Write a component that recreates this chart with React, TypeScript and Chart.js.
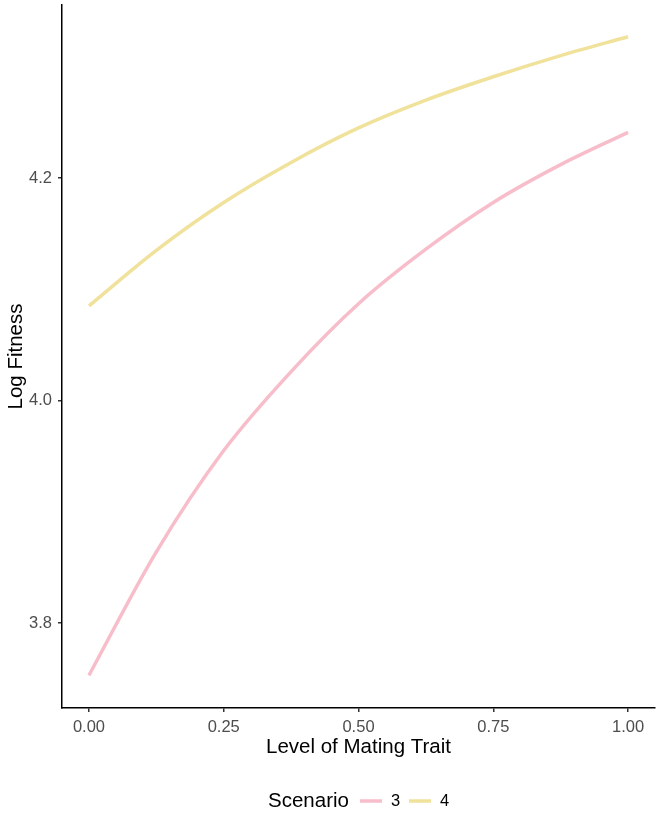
import React, { useEffect, useRef } from "react";
import { Chart, registerables } from "chart.js";

Chart.register(...registerables);

const xValues = [0, 0.125, 0.25, 0.375, 0.5, 0.625, 0.75, 0.875, 1];
const scenario3 = [3.753, 3.864, 3.955, 4.026, 4.087, 4.136, 4.178, 4.212, 4.241];
const scenario4 = [4.085, 4.135, 4.178, 4.214, 4.245, 4.27, 4.291, 4.31, 4.327];
const xTicks = [0, 0.25, 0.5, 0.75, 1];
const yTicks = [3.8, 4.0, 4.2];
const seriesNames = ["3", "4"];
const seriesColors = ["#F8BDCA", "#F0E19B"];
const legendTitle = "Scenario";
const xTitle = "Level of Mating Trait";
const yTitle = "Log Fitness";

const FONT = "'Liberation Sans', Arial, Helvetica, sans-serif";

const legendPlugin = {
  id: "ggLegend",
  afterDraw(chart: any) {
    const ctx = chart.ctx;
    const y = 801;
    ctx.save();
    ctx.textBaseline = "middle";
    ctx.textAlign = "left";
    ctx.fillStyle = "#000000";
    ctx.font = `20.5px ${FONT}`;
    ctx.fillText(legendTitle, 268, y);
    let x = 360;
    chart.data.datasets.forEach((ds: any) => {
      ctx.strokeStyle = ds.borderColor;
      ctx.lineWidth = 3.5;
      ctx.beginPath();
      ctx.moveTo(x, y);
      ctx.lineTo(x + 22, y);
      ctx.stroke();
      ctx.fillStyle = "#000000";
      ctx.font = `16.5px ${FONT}`;
      ctx.fillText(ds.label, x + 31, y);
      x += 49;
    });
    ctx.restore();
  },
};

export default function App() {
  const ref = useRef<HTMLCanvasElement | null>(null);

  useEffect(() => {
    if (!ref.current) return;
    const datasets = [scenario3, scenario4].map((vals, i) => ({
      label: seriesNames[i],
      data: vals.map((v, j) => ({ x: xValues[j], y: v })),
      borderColor: seriesColors[i],
      backgroundColor: seriesColors[i],
      borderWidth: 3.5,
      pointRadius: 0,
      cubicInterpolationMode: "monotone" as const,
      fill: false,
    }));
    const chart = new Chart(ref.current, {
      type: "line",
      data: { datasets },
      plugins: [legendPlugin],
      options: {
        animation: false,
        responsive: false,
        maintainAspectRatio: false,
        layout: { padding: { left: 0, right: 6, top: 5, bottom: 53 } },
        plugins: { legend: { display: false }, tooltip: { enabled: false } },
        scales: {
          x: {
            type: "linear",
            min: -0.05,
            max: 1.05,
            afterBuildTicks: (s: any) => {
              s.ticks = xTicks.map((v) => ({ value: v }));
            },
            afterFit: (s: any) => {
              s.height = 52;
              s.paddingLeft = 0;
              s.paddingRight = 0;
            },
            ticks: {
              callback: (v: any) => Number(v).toFixed(2),
              color: "#4D4D4D",
              font: { family: FONT, size: 16.5 },
              padding: 6,
              maxRotation: 0,
              autoSkip: false,
            },
            grid: {
              display: true,
              drawOnChartArea: false,
              drawTicks: true,
              tickLength: 4,
              color: "#333333",
              lineWidth: 1.5,
            },
            border: { display: true, color: "#000000", width: 1.5 },
            title: {
              display: true,
              text: xTitle,
              color: "#000000",
              font: { family: FONT, size: 20.5 },
              padding: { top: 0, bottom: 0 },
            },
          },
          y: {
            type: "linear",
            min: 3.7236,
            max: 4.3555,
            afterBuildTicks: (s: any) => {
              s.ticks = yTicks.map((v) => ({ value: v }));
            },
            afterFit: (s: any) => {
              s.width = 62;
              s.paddingTop = 0;
              s.paddingBottom = 0;
            },
            ticks: {
              callback: (v: any) => Number(v).toFixed(1),
              color: "#4D4D4D",
              font: { family: FONT, size: 16.5 },
              padding: 6,
              autoSkip: false,
            },
            grid: {
              display: true,
              drawOnChartArea: false,
              drawTicks: true,
              tickLength: 4,
              color: "#333333",
              lineWidth: 1.5,
            },
            border: { display: true, color: "#000000", width: 1.5 },
            title: {
              display: true,
              text: yTitle,
              color: "#000000",
              font: { family: FONT, size: 20.5 },
              padding: { top: 4, bottom: 0 },
            },
          },
        },
      },
    });
    return () => chart.destroy();
  }, []);

  return (
    <div style={{ position: "fixed", left: 0, top: 0, width: 661, height: 813, background: "#ffffff" }}>
      <canvas ref={ref} width={661} height={813} style={{ width: 661, height: 813, display: "block" }} />
    </div>
  );
}
